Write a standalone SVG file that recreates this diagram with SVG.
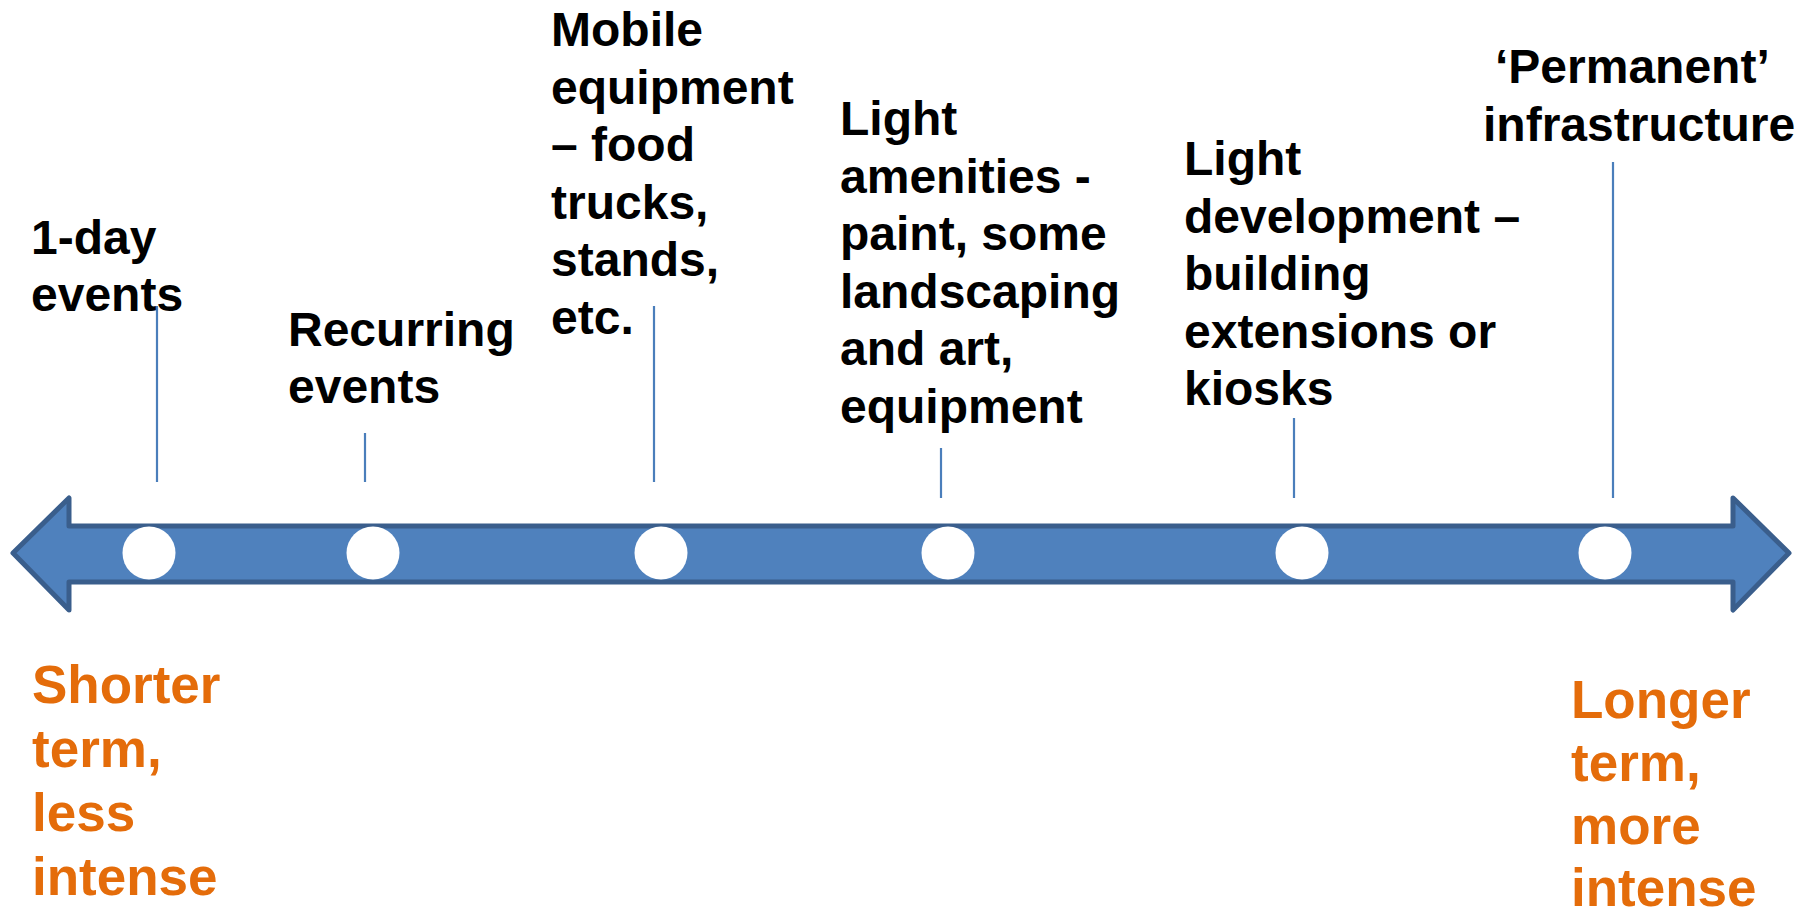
<svg xmlns="http://www.w3.org/2000/svg" width="1811" height="915" viewBox="0 0 1811 915">
  <style>
    .lbl { font-family: "Liberation Sans", Arial, Helvetica, sans-serif; font-weight: bold; font-size: 48px; fill: #000000; }
    .end { font-family: "Liberation Sans", Arial, Helvetica, sans-serif; font-weight: bold; font-size: 53px; fill: #E46C0A; }
    .tick { stroke: #4A7EBB; stroke-width: 2.2; fill: none; }
    .dot { fill: #FFFFFF; }
  </style>
  <rect width="1811" height="915" fill="#FFFFFF"/>

  <!-- double-headed timeline arrow -->
  <g id="timeline">
    <path d="M13,553 L69,498 L69,526 L1733,526 L1733,498 L1789,553 L1733,610 L1733,582 L69,582 L69,610 Z"
          fill="#4F81BD" stroke="#3A5E8C" stroke-width="5" stroke-linejoin="round"/>
  </g>

  <!-- tick lines from labels down to the timeline -->
  <g id="connectors">
    <line class="tick" x1="157" y1="306" x2="157" y2="482"/>
    <line class="tick" x1="365" y1="433" x2="365" y2="482"/>
    <line class="tick" x1="654" y1="306" x2="654" y2="482"/>
    <line class="tick" x1="941" y1="448" x2="941" y2="498"/>
    <line class="tick" x1="1294" y1="418" x2="1294" y2="498"/>
    <line class="tick" x1="1613" y1="162" x2="1613" y2="498"/>
  </g>

  <g id="stage-1">
    <circle class="dot" cx="149" cy="553" r="26.5"/>
    <text class="lbl"><tspan x="31" y="254">1-day</tspan><tspan x="31" y="311">events</tspan></text>
  </g>

  <g id="stage-2">
    <circle class="dot" cx="373" cy="553" r="26.5"/>
    <text class="lbl"><tspan x="288" y="346">Recurring</tspan><tspan x="288" y="403">events</tspan></text>
  </g>

  <g id="stage-3">
    <circle class="dot" cx="661" cy="553" r="26.5"/>
    <text class="lbl">
      <tspan x="551" y="46">Mobile</tspan>
      <tspan x="551" y="103.6">equipment</tspan>
      <tspan x="551" y="161.2">– food</tspan>
      <tspan x="551" y="218.8">trucks,</tspan>
      <tspan x="551" y="276.4">stands,</tspan>
      <tspan x="551" y="334">etc.</tspan>
    </text>
  </g>

  <g id="stage-4">
    <circle class="dot" cx="948" cy="553" r="26.5"/>
    <text class="lbl">
      <tspan x="840" y="135">Light</tspan>
      <tspan x="840" y="192.6">amenities -</tspan>
      <tspan x="840" y="250.2">paint, some</tspan>
      <tspan x="840" y="307.8">landscaping</tspan>
      <tspan x="840" y="365.4">and art,</tspan>
      <tspan x="840" y="423">equipment</tspan>
    </text>
  </g>

  <g id="stage-5">
    <circle class="dot" cx="1302" cy="553" r="26.5"/>
    <text class="lbl">
      <tspan x="1184" y="175">Light</tspan>
      <tspan x="1184" y="232.6">development –</tspan>
      <tspan x="1184" y="290.2">building</tspan>
      <tspan x="1184" y="347.8">extensions or</tspan>
      <tspan x="1184" y="405.4">kiosks</tspan>
    </text>
  </g>

  <g id="stage-6">
    <circle class="dot" cx="1605" cy="553" r="26.5"/>
    <text class="lbl">
      <tspan x="1495" y="83">‘Permanent’</tspan>
      <tspan x="1483" y="140.6">infrastructure</tspan>
    </text>
  </g>

  <g id="end-short">
    <text class="end">
      <tspan x="32" y="703">Shorter</tspan>
      <tspan x="32" y="767">term,</tspan>
      <tspan x="32" y="831">less</tspan>
      <tspan x="32" y="895">intense</tspan>
    </text>
  </g>

  <g id="end-long">
    <text class="end">
      <tspan x="1571" y="718">Longer</tspan>
      <tspan x="1571" y="781">term,</tspan>
      <tspan x="1571" y="844">more</tspan>
      <tspan x="1571" y="906">intense</tspan>
    </text>
  </g>
</svg>
